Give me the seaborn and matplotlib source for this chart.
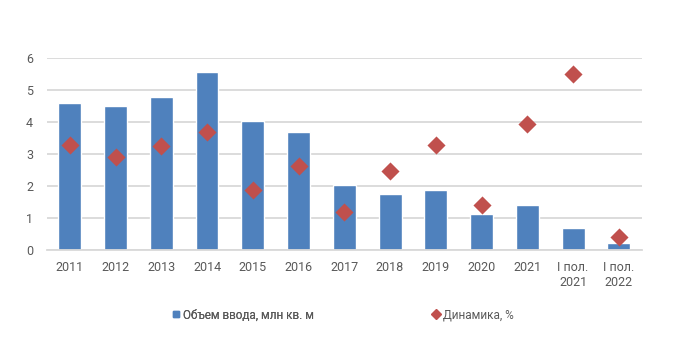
import matplotlib
matplotlib.use("Agg")
import matplotlib.pyplot as plt
import seaborn as sns
import pandas as pd
from matplotlib.lines import Line2D

categories = ["2011", "2012", "2013", "2014", "2015", "2016", "2017", "2018",
              "2019", "2020", "2021", "I пол.\n2021", "I пол.\n2022"]
volume = [4.59, 4.49, 4.77, 5.58, 4.02, 3.68, 2.02, 1.74, 1.89, 1.14, 1.42, 0.7, 0.23]
dynamics = [3.29, 2.92, 3.25, 3.70, 1.88, 2.64, 1.20, 2.48, 3.29, 1.42, 3.95, 5.51, 0.42]
yticks = [0, 1, 2, 3, 4, 5, 6]

series_bar = "Объем ввода, млн кв. м"
series_pt = "Динамика, %"

df = pd.DataFrame({"cat": categories, "volume": volume, "dyn": dynamics})

sns.set_theme(style="white")
plt.rcParams["font.family"] = ["Roboto", "DejaVu Sans"]

bar_c = "#4F81BD"
pt_c = "#C0504D"
txt_c = "#595959"
grid_c = "#D9D9D9"

fig = plt.figure(figsize=(6.9, 3.42), dpi=100)
ax = fig.add_axes([0.068, 0.269, 0.862, 0.561])

sns.barplot(data=df, x="cat", y="volume", color=bar_c, width=0.5,
            saturation=1, ax=ax, zorder=2)
sns.scatterplot(data=df, x="cat", y="dyn", color=pt_c, marker="D", s=85,
                edgecolor=pt_c, linewidth=0, ax=ax, zorder=3)

ax.set_xlim(-0.5, len(categories) - 0.5)
ax.set_ylim(0, 6)
ax.set_yticks(yticks)
ax.set_yticklabels([str(t) for t in yticks])
ax.yaxis.grid(True, color=grid_c, linewidth=1.3, zorder=0)
ax.set_axisbelow(True)
for s in ["top", "right", "left"]:
    ax.spines[s].set_visible(False)
ax.spines["bottom"].set_color(grid_c)
ax.spines["bottom"].set_linewidth(1.3)
ax.tick_params(axis="both", length=0, colors=txt_c, labelsize=9)
ax.tick_params(axis="x", pad=8)
ax.tick_params(axis="y", pad=10)
ax.set_xlabel("")
ax.set_ylabel("")

ly = 1 - 315 / 342
leg1 = fig.legend([Line2D([], [], marker="s", linestyle="", color=bar_c,
                          markersize=5)], [series_bar],
                  loc="center left", bbox_to_anchor=(172 / 690, ly),
                  frameon=False, fontsize=8.5, handlelength=0.7,
                  handletextpad=0.2, borderpad=0, borderaxespad=0)
leg2 = fig.legend([Line2D([], [], marker="D", linestyle="", color=pt_c,
                          markersize=5)], [series_pt],
                  loc="center left", bbox_to_anchor=(432 / 690, ly),
                  frameon=False, fontsize=8.5, handlelength=0.7,
                  handletextpad=0.2, borderpad=0, borderaxespad=0)
fig.add_artist(leg1)
for lg in (leg1, leg2):
    for t in lg.get_texts():
        t.set_color(txt_c)

fig.savefig("out.png", dpi=100)
